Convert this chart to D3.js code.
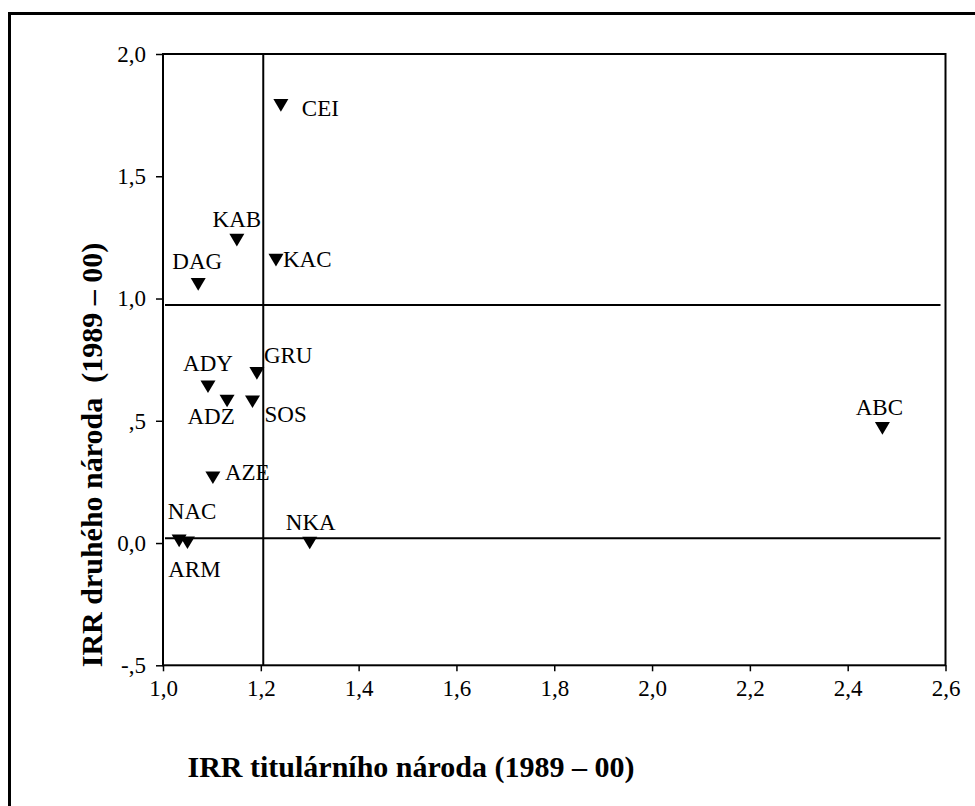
<!DOCTYPE html>
<html>
<head>
<meta charset="utf-8">
<script src="https://cdn.jsdelivr.net/npm/d3@7"></script>
<style>
  html, body { margin: 0; padding: 0; background: #fff; }
  svg { display: block; }
  text { font-family: "Liberation Serif", "Times New Roman", serif; fill: #000; }
</style>
</head>
<body>
<svg id="chart" width="975" height="806"></svg>
<script>
// ---- data ----
const regions = ["CEI", "KAB", "KAC", "DAG", "GRU", "ADY", "ADZ", "SOS", "AZE", "NAC", "ARM", "NKA", "ABC"];
const irrTitular = [1.241, 1.151, 1.231, 1.072, 1.192, 1.092, 1.131, 1.183, 1.102, 1.033, 1.050, 1.300, 2.471];
const irrSecond  = [1.790, 1.239, 1.157, 1.058, 0.694, 0.639, 0.581, 0.578, 0.267, 0.009, 0.001, 0.000, 0.469];
const xTicks = [1.0, 1.2, 1.4, 1.6, 1.8, 2.0, 2.2, 2.4, 2.6];
const xTickLabels = ["1,0", "1,2", "1,4", "1,6", "1,8", "2,0", "2,2", "2,4", "2,6"];
const yTicks = [2.0, 1.5, 1.0, 0.5, 0.0, -0.5];
const yTickLabels = ["2,0", "1,5", "1,0", ",5", "0,0", "-,5"];
const refX = [1.205];
const refY = [0.974, 0.02];
const xTitle = "IRR titulárního národa (1989 – 00)";
const yTitle = "IRR druhého národa\u00a0\u00a0(1989 – 00)";

// label placement (layout only)
const labelPlacement = {
  CEI: {anchor: "start", dx: 21, dy: 11},
  KAB: {anchor: "middle", dx: 0, dy: -13},
  KAC: {anchor: "start", dx: 7, dy: 7},
  DAG: {anchor: "middle", dx: -1, dy: -15},
  GRU: {anchor: "start", dx: 7, dy: -10},
  ADY: {anchor: "middle", dx: 0, dy: -16},
  ADZ: {anchor: "middle", dx: -16, dy: 23},
  SOS: {anchor: "start", dx: 12, dy: 20},
  AZE: {anchor: "start", dx: 12, dy: 2},
  NAC: {anchor: "middle", dx: 13, dy: -22},
  ARM: {anchor: "middle", dx: 7, dy: 34},
  NKA: {anchor: "middle", dx: 1, dy: -13},
  ABC: {anchor: "middle", dx: -3, dy: -13}
};

const points = regions.map((r, i) => ({name: r, x: irrTitular[i], y: irrSecond[i]}));

// ---- layout ----
const svg = d3.select("#chart");
const pLeft = 163, pRight = 945.5, pTop = 54, pBottom = 665.3;

const x = d3.scaleLinear().domain([1.0, 2.6]).range([pLeft, pRight]);
const y = d3.scaleLinear().domain([-0.5, 2.0]).range([pBottom, pTop]);

// outer frame (open at right/bottom, cropped)
svg.append("path")
  .attr("d", `M9.5,806 L9.5,13.5 L975,13.5`)
  .attr("fill", "none").attr("stroke", "#000").attr("stroke-width", 3);

// plot frame
svg.append("rect")
  .attr("x", pLeft).attr("y", pTop)
  .attr("width", pRight - pLeft).attr("height", pBottom - pTop)
  .attr("fill", "none").attr("stroke", "#000").attr("stroke-width", 2);

// axes
const fontSize = 23;
const xAxis = d3.axisBottom(x)
  .tickValues(xTicks)
  .tickFormat((d, i) => xTickLabels[i])
  .tickSize(6).tickPadding(8);
const gx = svg.append("g").attr("transform", `translate(0,${pBottom})`).call(xAxis);

const yAxis = d3.axisLeft(y)
  .tickValues(yTicks)
  .tickFormat((d, i) => yTickLabels[i])
  .tickSize(7).tickPadding(10);
const gy = svg.append("g").attr("transform", `translate(${pLeft},0)`).call(yAxis);

[gx, gy].forEach(g => {
  g.select(".domain").remove();
  g.selectAll(".tick line").attr("stroke", "#000").attr("stroke-width", 1.5);
  g.selectAll(".tick text")
    .style("font-family", '"Liberation Serif", "Times New Roman", serif')
    .style("font-size", fontSize + "px").attr("fill", "#000");
});

// reference lines
svg.selectAll(".refx").data(refX).enter().append("line")
  .attr("x1", d => x(d)).attr("x2", d => x(d))
  .attr("y1", pTop).attr("y2", pBottom)
  .attr("stroke", "#000").attr("stroke-width", 2);

svg.selectAll(".refy").data(refY).enter().append("line")
  .attr("x1", pLeft + 2).attr("x2", pRight - 5)
  .attr("y1", d => y(d)).attr("y2", d => y(d))
  .attr("stroke", "#000").attr("stroke-width", 2);

// markers: downward triangles
const hw = 7.5, hh = 6.3;
const tri = `M${-hw},${-hh} L${hw},${-hh} L0,${hh} Z`;
svg.selectAll(".pt").data(points).enter().append("path")
  .attr("d", tri)
  .attr("transform", d => `translate(${x(d.x)},${y(d.y)})`)
  .attr("fill", "#000");

// labels
svg.selectAll(".lbl").data(points).enter().append("text")
  .attr("x", d => x(d.x) + labelPlacement[d.name].dx)
  .attr("y", d => y(d.y) + labelPlacement[d.name].dy)
  .attr("text-anchor", d => labelPlacement[d.name].anchor)
  .style("font-size", fontSize + "px")
  .text(d => d.name);

// axis titles
svg.append("text")
  .attr("x", 411).attr("y", 777)
  .attr("text-anchor", "middle")
  .style("font-size", "30px").style("font-weight", "bold")
  .text(xTitle);

svg.append("text")
  .attr("transform", "translate(102,455) rotate(-90)")
  .attr("text-anchor", "middle")
  .style("font-size", "30px").style("font-weight", "bold")
  .text(yTitle);
</script>
</body>
</html>
